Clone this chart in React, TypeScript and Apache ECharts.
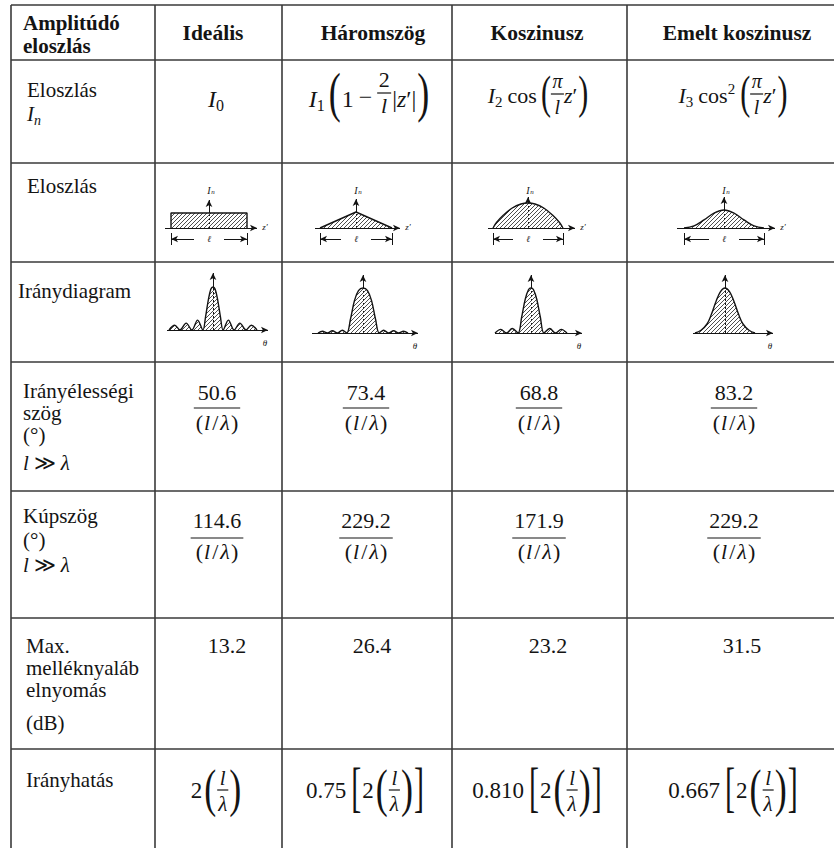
import React, { useEffect, useRef } from 'react';
import * as echarts from 'echarts';

const FAMILY = 'Liberation Serif, Times New Roman, DejaVu Serif, serif';
const INK = '#141414';
const RULE = '#3a3a3a';

// ---------- table content ----------
const cornerTitle = ['Amplitúdó', 'eloszlás'];
const columnTitles = ['Ideális', 'Háromszög', 'Koszinusz', 'Emelt koszinusz'];
const beamwidthNumerators = ['50.6', '73.4', '68.8', '83.2'];
const coneAngleNumerators = ['114.6', '229.2', '171.9', '229.2'];
const sidelobeSuppressionDb = ['13.2', '26.4', '23.2', '31.5'];
const directivityFactors = ['', '0.75', '0.810', '0.667'];

// ---------- illustration shapes (normalised: x in [-1,1] = aperture, y peak = 1) ----------
const distIdeal = [[-1, 0], [-1, 1], [1, 1], [1, 0]];
const distTriangle = [[-1, 0], [0, 1], [1, 0]];
const distCosine = [[-1, 0], [-0.9, 0.22], [-0.7, 0.52], [-0.45, 0.8], [-0.2, 0.96], [0, 1], [0.2, 0.96], [0.45, 0.8], [0.7, 0.52], [0.9, 0.22], [1, 0]];
const distRaisedCosine = [[-1, 0], [-0.75, 0.12], [-0.5, 0.45], [-0.25, 0.83], [0, 1], [0.25, 0.83], [0.5, 0.45], [0.75, 0.12], [1, 0]];

const patIdeal = [[-1, 0], [-0.87, 0.11], [-0.75, 0], [-0.61, 0.16], [-0.48, 0], [-0.35, 0.23], [-0.23, 0], [-0.17, 0.3], [-0.11, 0.68], [-0.05, 0.95], [0, 1], [0.05, 0.95], [0.11, 0.68], [0.17, 0.3], [0.23, 0], [0.35, 0.23], [0.48, 0], [0.61, 0.16], [0.75, 0], [0.87, 0.11], [1, 0]];
const patTriangle = [[-1, 0], [-0.9, 0.04], [-0.79, 0], [-0.68, 0.05], [-0.57, 0], [-0.46, 0.06], [-0.36, 0], [-0.28, 0.3], [-0.19, 0.72], [-0.1, 0.94], [0, 1], [0.1, 0.94], [0.19, 0.72], [0.28, 0.3], [0.36, 0], [0.46, 0.06], [0.57, 0], [0.68, 0.05], [0.79, 0], [0.9, 0.04], [1, 0]];
const patCosine = [[-1, 0], [-0.84, 0.08], [-0.68, 0], [-0.52, 0.1], [-0.36, 0], [-0.26, 0.35], [-0.16, 0.75], [-0.07, 0.96], [0, 1], [0.07, 0.96], [0.16, 0.75], [0.26, 0.35], [0.36, 0], [0.52, 0.1], [0.68, 0], [0.84, 0.08], [1, 0]];
const patRaisedCosine = [[-1, 0], [-0.8, 0.06], [-0.6, 0.2], [-0.45, 0.42], [-0.3, 0.7], [-0.15, 0.92], [0, 1], [0.15, 0.92], [0.3, 0.7], [0.45, 0.42], [0.6, 0.2], [0.8, 0.06], [1, 0]];

// ---------- layout (pixels) ----------
const colX = [11, 155, 282, 452, 627];
const rowY = [5, 60, 163, 262, 362, 491, 618, 749];
const distLayout = [
  { cx: 209, by: 228, hw: 38, ph: 15, axL: 44, axR: 48, tip: 28 },
  { cx: 356, by: 228, hw: 36, ph: 16, axL: 41, axR: 44, tip: 29 },
  { cx: 528, by: 228, hw: 35, ph: 25, axL: 40, axR: 47, tip: 31 },
  { cx: 724, by: 228, hw: 40, ph: 18, axL: 47, axR: 51, tip: 31 },
];
const patLayout = [
  { cx: 213, by: 330, hw: 44, ph: 43, axL: 46, axR: 55, tip: 57 },
  { cx: 363, by: 333, hw: 45, ph: 45, axL: 51, axR: 55, tip: 58 },
  { cx: 531, by: 333, hw: 36, ph: 45, axL: 36, axR: 51, tip: 58 },
  { cx: 725, by: 333, hw: 30, ph: 45, axL: 32, axR: 48, tip: 58 },
];

// ---------- mini formula layout ----------
type P =
  | { k: 't'; s: string; sz: number; it?: boolean; b?: boolean; dy?: number }
  | { k: 'g'; w: number }
  | { k: 'f'; n: P[]; d: P[]; nUp: number; dDown: number; pad?: number }
  | { k: 'F'; s: string; sz: number; h: number; dc: number };

const T = (s: string, sz: number, it = false, dy = 0, b = false): P => ({ k: 't', s, sz, it, dy, b });
const G = (w: number): P => ({ k: 'g', w });
const Fr = (n: P[], d: P[], nUp: number, dDown: number, pad = 2): P => ({ k: 'f', n, d, nUp, dDown, pad });
const Fe = (s: string, sz: number, h: number, dc = 0): P => ({ k: 'F', s, sz, h, dc });

const fontOf = (sz: number, it = false, b = false) => `${it ? 'italic ' : ''}${b ? 'bold ' : ''}${sz}px ${FAMILY}`;

let mctx: CanvasRenderingContext2D | null = null;
function tw(s: string, sz: number, it = false, b = false) {
  if (!mctx) mctx = document.createElement('canvas').getContext('2d');
  mctx!.font = fontOf(sz, it, b);
  return mctx!.measureText(s).width;
}

function txt(s: string, x: number, base: number, sz: number, it = false, b = false) {
  return {
    type: 'text', x, y: base - 0.3375 * sz, silent: true,
    style: {
      text: s, font: fontOf(sz, it, b), fill: INK,
      align: 'left', textAlign: 'left', verticalAlign: 'middle', textVerticalAlign: 'middle',
    },
  };
}

function lay(ps: P[], x: number, base: number, axis: number, out: any[] | null): number {
  let cx = x;
  for (const p of ps) {
    if (p.k === 't') {
      if (out) out.push(txt(p.s, cx, base + (p.dy || 0), p.sz, p.it, p.b));
      cx += tw(p.s, p.sz, p.it, p.b);
    } else if (p.k === 'g') {
      cx += p.w;
    } else if (p.k === 'f') {
      const wn = lay(p.n, 0, 0, 0, null);
      const wd = lay(p.d, 0, 0, 0, null);
      const pad = p.pad ?? 2;
      const w = Math.max(wn, wd) + 2 * pad;
      if (out) {
        lay(p.n, cx + (w - wn) / 2, axis - p.nUp, axis, out);
        lay(p.d, cx + (w - wd) / 2, axis + p.dDown, axis, out);
        out.push({ type: 'line', silent: true, shape: { x1: cx, y1: axis, x2: cx + w, y2: axis }, style: { stroke: INK, lineWidth: 1.2 } });
      }
      cx += w;
    } else {
      const w = tw(p.s, p.sz);
      if (out) {
        const sy = p.h / (0.92 * p.sz);
        out.push({
          type: 'text', x: cx, y: axis + p.dc - 0.1 * p.sz * sy, scaleY: sy, silent: true,
          style: { text: p.s, font: fontOf(p.sz), fill: INK, align: 'left', textAlign: 'left', verticalAlign: 'middle', textVerticalAlign: 'middle' },
        });
      }
      cx += w;
    }
  }
  return cx - x;
}
function centered(ps: P[], cx: number, base: number, axis: number, out: any[]) {
  const w = lay(ps, 0, 0, 0, null);
  lay(ps, cx - w / 2, base, axis, out);
}

function makeHatch() {
  const c = document.createElement('canvas');
  c.width = 4; c.height = 4;
  const g = c.getContext('2d')!;
  g.strokeStyle = '#3a3a3a';
  g.lineWidth = 0.9;
  g.beginPath();
  g.moveTo(0, 4); g.lineTo(4, 0);
  g.moveTo(-1, 1); g.lineTo(1, -1);
  g.moveTo(3, 5); g.lineTo(5, 3);
  g.stroke();
  return { image: c, repeat: 'repeat', imageWidth: 4, imageHeight: 4 };
}

function buildOption() {
  const gr: any[] = [];
  // table rules
  const right = 834;
  rowY.forEach((y) => gr.push({ type: 'line', silent: true, shape: { x1: colX[0], y1: y, x2: right, y2: y }, style: { stroke: RULE, lineWidth: 1.6 } }));
  colX.forEach((x) => gr.push({ type: 'line', silent: true, shape: { x1: x, y1: rowY[0], x2: x, y2: 848 }, style: { stroke: RULE, lineWidth: 1.6 } }));

  // header
  const HS = 21;
  gr.push(txt(cornerTitle[0], 23, 30, HS, false, true));
  gr.push(txt(cornerTitle[1], 23, 53, HS, false, true));
  const headCx = [213, 373, 537, 737];
  columnTitles.forEach((t, i) => centered([T(t, 21.5, false, 0, true)], headCx[i], 40, 40, gr));

  // row labels
  const LS = 21;
  const label = (s: string, x: number, y: number) => lay([T(s, LS)], x, y, y, gr);
  label('Eloszlás', 27, 97);
  lay([T('I', LS, true), T('n', 14, true, 4)], 27, 121, 121, gr);
  label('Eloszlás', 27, 193);
  label('Iránydiagram', 18, 298);
  const llam = (y: number) => lay([T('l', LS, true), G(5), T('≫', LS), G(5), T('λ', LS, true)], 23, y, y, gr);
  label('Irányélességi', 23, 398);
  label('szög', 23, 420);
  label('(°)', 23, 442);
  llam(470);
  label('Kúpszög', 23, 523);
  label('(°)', 23, 547);
  llam(572);
  label('Max.', 26, 653);
  label('melléknyaláb', 26, 675);
  label('elnyomás', 26, 697);
  label('(dB)', 26, 730);
  label('Irányhatás', 26, 787);

  // row 1: distribution formulas
  centered([T('I', 24, true), T('0', 16, false, 4)], 216, 107, 98, gr);
  centered([
    T('I', 24, true), T('1', 16, false, 4), G(4), Fe('(', 36, 50, 5), G(1), T('1', 24), G(5), T('−', 24, false, -2), G(5),
    Fr([T('2', 22)], [T('l', 22, true)], 6, 20, 1.5), G(1), T('|', 24), T('z', 24, true), T('′', 24), T('|', 24), G(1), Fe(')', 36, 50, 5),
  ], 369, 107, 93, gr);
  const cosArg: P[] = [Fe('(', 30, 42, 3.5), Fr([T('π', 20, true)], [T('l', 20, true)], 6, 20, 1.5), T('z', 22, true), T('′', 22), G(1), Fe(')', 30, 42, 3.5)];
  centered([T('I', 22, true), T('2', 15, false, 4), G(5), T('cos', 22), G(4), ...cosArg], 538, 103, 94, gr);
  centered([T('I', 22, true), T('3', 15, false, 4), G(5), T('cos', 22), T('2', 15, false, -9), G(5), ...cosArg], 733, 103, 94, gr);

  // rows 4 and 5: fractions
  const den = [T('(', 22), G(1), T('l', 22, true), G(2), T('/', 22), G(2), T('λ', 22, true), G(1), T(')', 22)];
  const fcx = [217, 366, 539, 734];
  beamwidthNumerators.forEach((n, i) => centered([Fr([T(n, 22)], den, 8, 22, 2)], fcx[i], 408, 408, gr));
  coneAngleNumerators.forEach((n, i) => centered([Fr([T(n, 22)], den, 10, 21, 2)], fcx[i], 538, 538, gr));

  // row 6: values
  const vcx = [227, 372, 548, 742];
  sidelobeSuppressionDb.forEach((v, i) => centered([T(v, 22)], vcx[i], 653, 653, gr));

  // row 7: directivity
  const b7 = 798, a7 = 790;
  const core: P[] = [T('2', 23), G(2), Fe('(', 36, 48, 4), G(1), Fr([T('l', 21, true)], [T('λ', 21, true)], 5, 21, 1), G(1), Fe(')', 36, 48, 4)];
  const dcx = [216, 365, 537, 733];
  directivityFactors.forEach((f, i) => {
    const ps: P[] = f ? [T(f, 23), G(5), Fe('[', 30, 50, 3), G(1), ...core, G(1), Fe(']', 30, 50, 3)] : core;
    centered(ps, dcx[i], b7, a7, gr);
  });

  // ---------- illustrations through grids ----------
  const hatch = makeHatch();
  const grids: any[] = [], xAxes: any[] = [], yAxes: any[] = [], series: any[] = [];
  const shapes = [
    { data: distIdeal, L: distLayout[0], smooth: false, dist: true },
    { data: distTriangle, L: distLayout[1], smooth: false, dist: true },
    { data: distCosine, L: distLayout[2], smooth: 0.4, dist: true },
    { data: distRaisedCosine, L: distLayout[3], smooth: 0.4, dist: true },
    { data: patIdeal, L: patLayout[0], smooth: 0.35, dist: false },
    { data: patTriangle, L: patLayout[1], smooth: 0.35, dist: false },
    { data: patCosine, L: patLayout[2], smooth: 0.35, dist: false },
    { data: patRaisedCosine, L: patLayout[3], smooth: 0.4, dist: false },
  ];
  shapes.forEach((s, i) => {
    const L = s.L;
    const X = (p: number) => p / L.hw;
    const Y = (p: number) => p / L.ph;
    grids.push({ left: L.cx - 70, top: L.by - 70, width: 140, height: 100 });
    xAxes.push({ gridIndex: i, type: 'value', min: X(-70), max: X(70), show: false });
    yAxes.push({ gridIndex: i, type: 'value', min: Y(-30), max: Y(70), show: false });
    const thin = { color: INK, width: 1, type: 'solid' };
    const seg = (a: number[], b: number[], arrow: boolean, ls: any = thin) => [
      { coord: a, symbol: 'none', symbolSize: 0, lineStyle: ls },
      { coord: b, symbol: arrow ? 'arrow' : 'none', symbolSize: arrow ? [5, 7] : 0, lineStyle: ls },
    ];
    const lines: any[] = [
      seg([X(-L.axL), 0], [X(L.axR), 0], true),
      seg([0, 0], [0, 1], false, { color: INK, width: 1, type: [2, 2] }),
      seg([0, 1], [0, Y(L.tip)], true),
    ];
    const pts: any[] = [];
    const lab = (c: number[], t: string, sz: number, it = true) => ({
      coord: c, value: 0,
      label: { show: true, position: 'inside', formatter: t, fontSize: sz, fontStyle: it ? 'italic' : 'normal', fontFamily: FAMILY, color: INK },
    });
    if (s.dist) {
      const dy = Y(-11);
      lines.push(seg([X(-15), dy], [-1, dy], true));
      lines.push(seg([X(15), dy], [1, dy], true));
      lines.push(seg([-1, Y(-5)], [-1, Y(-17)], false));
      lines.push(seg([1, Y(-5)], [1, Y(-17)], false));
      pts.push(lab([0, dy], 'ℓ', 9));
      pts.push(lab([0, Y(38)], 'I', 10));
      pts.push(lab([X(4), Y(36)], 'n', 7));
      pts.push(lab([X(L.axR + 8), Y(1)], 'z′', 9));
    } else {
      pts.push(lab([X(L.axR - 3), Y(-13)], 'θ', 9));
    }
    series.push({
      type: 'line', xAxisIndex: i, yAxisIndex: i, data: s.data, smooth: s.smooth, symbol: 'none',
      clip: false, silent: true, z: 5,
      lineStyle: { color: INK, width: 1.4 },
      areaStyle: { color: hatch, opacity: 1 },
      markLine: { silent: true, symbol: ['none', 'arrow'], label: { show: false }, emphasis: { disabled: true }, lineStyle: thin, data: lines },
      markPoint: { silent: true, symbol: 'circle', symbolSize: 0, data: pts },
    });
  });

  return {
    animation: false,
    backgroundColor: '#ffffff',
    grid: grids,
    xAxis: xAxes,
    yAxis: yAxes,
    series,
    graphic: { elements: gr },
  };
}

export default function App() {
  const ref = useRef<HTMLDivElement>(null);
  useEffect(() => {
    document.body.style.margin = '0';
    const chart = echarts.init(ref.current!, null, { renderer: 'svg' });
    chart.setOption(buildOption() as any);
    return () => chart.dispose();
  }, []);
  return <div ref={ref} style={{ width: 834, height: 848 }} />;
}
